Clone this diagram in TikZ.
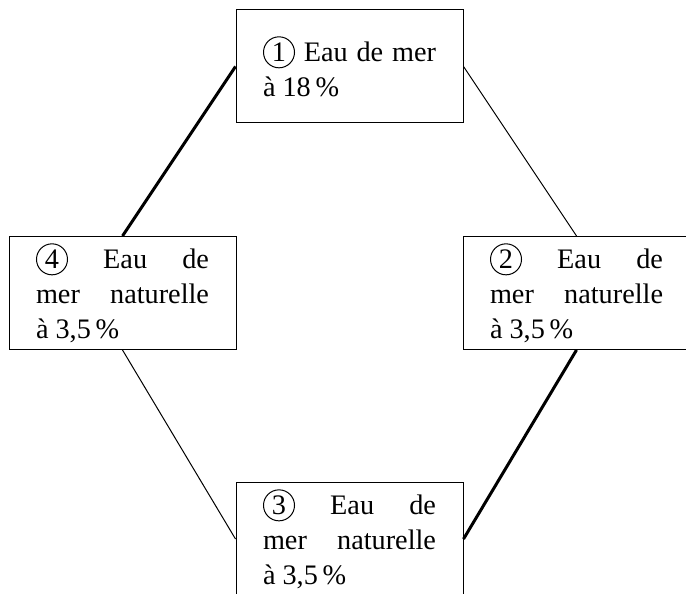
\documentclass[tikz,border=0pt]{standalone}
\usepackage{fontspec}
\setmainfont{Liberation Serif}
\usetikzlibrary{positioning}

\newcommand{\numero}[1]{\tikz[baseline=-3.6pt]\node[draw,circle,inner sep=0pt,minimum size=12.4pt,text width={},align=center,line width=0.4pt]{#1};}

\begin{document}
\begin{tikzpicture}[
    on grid,
    bloc/.style={
        rectangle,
        draw,
        line width=0.4pt,
        text width=69.2pt,
        align=justify,
        inner xsep=10.8pt,
        inner ysep=2pt,
        minimum height=45.2pt,
        font=\fontsize{11.3}{14}\selectfont
    },
    lien/.style={
        draw, line width=0.4pt
    },
    lienepais/.style={
        draw, line width=1.2pt
    }
]
    \useasboundingbox (0,0) rectangle (274.4pt,-237.2pt);

    % Cases
    \node [bloc] (eau1) at (139.8pt,-26.6pt) {\numero{1} Eau de mer\linebreak à 18\,\%};
    \node [bloc, below right=90.6pt and 90.8pt of eau1] (eau2) {\numero{2} Eau de\linebreak mer naturelle\linebreak à 3,5\,\%};
    \node [bloc, below left=90.6pt and 90.8pt of eau1] (eau4) {\numero{4} Eau de\linebreak mer naturelle\linebreak à 3,5\,\%};
    \node [bloc, below right=98.4pt and 90.8pt of eau4] (eau3) {\numero{3} Eau de\linebreak mer naturelle\linebreak à 3,5\,\%};

    % Liaisons
    \path [lienepais] (eau1.west) -- (eau4.north);
    \path [lien] (eau1.east) -- (eau2.north);
    \path [lienepais] (eau2.south) -- (eau3.east);
    \path [lien] (eau4.south) -- (eau3.west);

\end{tikzpicture}
\end{document}
